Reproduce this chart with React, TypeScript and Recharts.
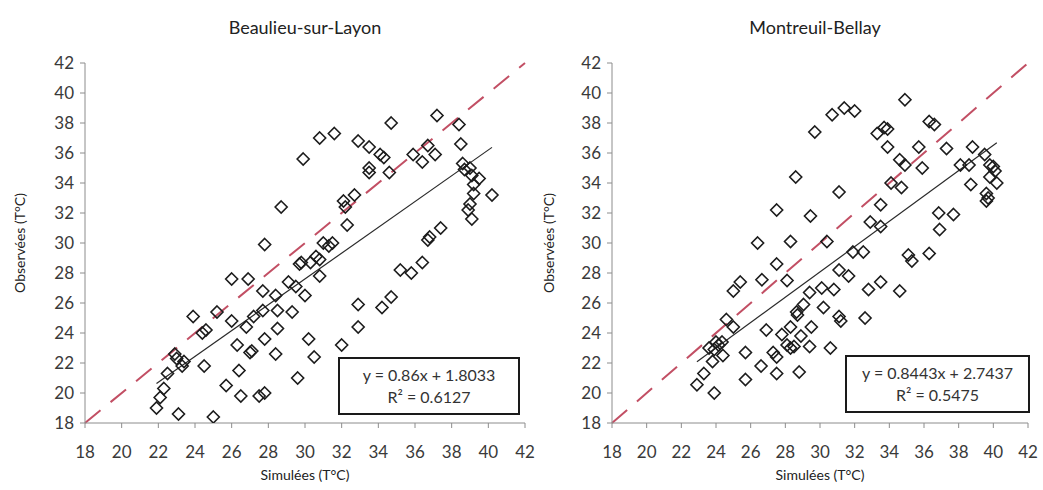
import React from "react";
import {
  ScatterChart,
  Scatter,
  XAxis,
  YAxis,
  ReferenceLine,
} from "recharts";

// Beaulieu-sur-Layon : simulées (x) vs observées (y), °C
const beaulieuX = [
  21.9, 22.1, 22.3, 22.5, 22.9, 23.0, 23.3, 23.4, 23.1, 23.9, 24.4, 24.6, 24.5, 25.0, 25.2, 25.7,
  26.0, 26.0, 26.3, 26.4, 26.5, 26.9, 26.8, 27.0, 27.1, 27.2, 27.5, 27.8, 27.8, 27.7, 27.8, 27.7,
  28.4, 28.5, 28.5, 28.4, 28.7, 29.1, 29.3, 29.6, 29.5, 29.7, 30.0, 30.2, 30.5, 29.9, 30.8, 31.6,
  32.9, 33.5, 34.1, 34.3, 33.5, 33.5, 34.6, 34.7, 35.9, 36.4, 36.7, 37.1, 37.2, 38.4, 38.5, 38.6,
  38.7, 39.0, 39.1, 39.5, 39.2, 39.2, 40.2, 39.0, 38.9, 39.1, 32.3, 32.1, 32.7, 32.2, 31.5, 36.8,
  37.4, 31.0, 31.3, 29.8, 30.3, 30.6, 30.8, 32.0, 32.9, 32.9, 34.2, 34.7, 35.2, 35.8, 36.4, 36.7,
  30.8,
];
const beaulieuY = [
  19.0, 19.7, 20.3, 21.3, 22.6, 22.3, 21.8, 22.1, 18.6, 25.1, 24.0, 24.2, 21.8, 18.4, 25.4, 20.5,
  27.6, 24.8, 23.2, 21.5, 19.8, 27.6, 24.4, 22.7, 22.8, 25.1, 19.8, 20.0, 29.9, 26.8, 23.6, 25.5,
  26.5, 25.5, 24.3, 22.6, 32.4, 27.4, 25.4, 21.0, 27.1, 28.6, 26.5, 23.6, 22.4, 35.6, 37.0, 37.3,
  36.8, 36.4, 35.9, 35.7, 35.0, 34.7, 34.7, 38.0, 35.9, 35.4, 36.5, 35.9, 38.5, 37.9, 36.6, 35.3,
  34.9, 35.0, 34.5, 34.3, 33.9, 33.3, 33.2, 32.6, 32.2, 31.6, 31.2, 32.8, 33.2, 32.4, 30.0, 30.4,
  31.0, 30.0, 29.8, 28.7, 28.7, 29.1, 27.8, 23.2, 25.9, 24.4, 25.7, 26.4, 28.2, 28.0, 28.7, 30.2,
  28.9,
];

// Montreuil-Bellay
const montreuilX = [
  22.9, 23.3, 23.8, 23.9, 24.4, 23.6, 23.9, 24.0, 24.15, 24.35, 24.6, 25.0, 25.0, 25.4, 25.7, 25.7,
  26.4, 26.6, 26.65, 26.9, 27.3, 27.5, 27.5, 27.5, 27.5, 27.8, 28.1, 28.3, 28.5, 28.3, 28.1, 28.3,
  28.6, 28.7, 28.9, 28.8, 29.05, 28.65, 29.4, 29.45, 29.5, 29.4, 29.7, 30.1, 30.2, 30.4, 30.6, 30.7,
  30.8, 31.1, 31.1, 31.1, 31.2, 31.4, 31.65, 31.9, 32.0, 32.5, 32.6, 32.8, 32.9, 33.3, 33.5, 33.5,
  33.5, 33.7, 33.9, 33.9, 34.1, 34.6, 34.6, 34.7, 34.9, 34.9, 35.1, 35.3, 35.7, 35.9, 36.3, 36.3,
  36.6, 36.85, 36.9, 37.3, 37.7, 38.1, 38.6, 38.7, 38.8, 39.5, 39.6, 39.6, 39.7, 39.8, 39.8, 40.0,
  40.1, 40.2,
];
const montreuilY = [
  20.55, 21.3, 22.1, 20.0, 22.5, 23.0, 22.9, 23.4, 23.2, 23.4, 24.9, 24.4, 26.8, 27.4, 20.9, 22.7,
  30.0, 21.8, 27.55, 24.2, 22.7, 22.4, 21.3, 28.6, 32.2, 23.9, 23.2, 23.0, 23.1, 24.4, 27.5, 30.1,
  34.4, 25.2, 23.8, 21.4, 25.9, 25.4, 26.7, 31.8, 24.4, 23.1, 37.4, 27.0, 25.7, 30.1, 23.0, 38.55,
  26.9, 33.4, 28.2, 25.1, 24.8, 39.0, 27.8, 29.4, 38.8, 29.4, 25.0, 26.9, 31.4, 37.3, 27.4, 32.55,
  31.1, 37.7, 37.6, 36.4, 34.0, 35.55, 26.8, 33.7, 35.2, 39.55, 29.2, 28.8, 36.4, 35.0, 38.1, 29.3,
  37.9, 32.0, 30.9, 36.3, 31.9, 35.2, 35.2, 33.9, 36.4, 35.9, 33.3, 32.8, 33.0, 35.2, 34.4, 35.1,
  34.8, 34.0,
];

const axisTicks = [18, 20, 22, 24, 26, 28, 30, 32, 34, 36, 38, 40, 42];

const beaulieuFit = { slope: 0.86, intercept: 1.8033, r2: "0.6127", eq: "y = 0.86x + 1.8033" };
const montreuilFit = { slope: 0.8443, intercept: 2.7437, r2: "0.5475", eq: "y = 0.8443x + 2.7437" };

const FONT = "Lato, 'Open Sans', sans-serif";
const AXIS_GREY = "#8c8c8c";

const Diamond = (props: any) => {
  const { cx, cy } = props;
  if (cx == null || cy == null) return null;
  const r = 6;
  return (
    <path
      d={`M${cx},${cy - r} L${cx + r},${cy} L${cx},${cy + r} L${cx - r},${cy} Z`}
      fill="none"
      stroke="#1c1c1c"
      strokeWidth={1.6}
    />
  );
};

function Panel({ xs, ys, fit, width, marginLeft }: any) {
  const data = xs.map((x: number, i: number) => ({ x, y: ys[i] }));
  const minX = Math.min(...xs);
  const maxX = Math.max(...xs);
  const tick = { fontSize: 17, fill: "#3a3a3a", fontFamily: FONT };
  return (
    <ScatterChart
      width={width}
      height={490}
      margin={{ top: 63, right: 15, bottom: 27, left: marginLeft }}
    >
      <XAxis
        type="number"
        dataKey="x"
        domain={[18, 42]}
        ticks={axisTicks}
        interval={0}
        height={40}
        tick={tick}
        tickSize={5}
        tickMargin={18}
        stroke={AXIS_GREY}
        allowDataOverflow
      />
      <YAxis
        type="number"
        dataKey="y"
        domain={[18, 42]}
        ticks={axisTicks}
        interval={0}
        width={60}
        tick={tick}
        tickSize={5}
        tickMargin={6}
        stroke={AXIS_GREY}
        allowDataOverflow
      />
      <ReferenceLine
        segment={[{ x: 18, y: 18 }, { x: 42, y: 42 }]}
        stroke="#c24f64"
        strokeWidth={2}
        strokeDasharray="20 13"
        ifOverflow="visible"
      />
      <ReferenceLine
        segment={[
          { x: minX, y: fit.slope * minX + fit.intercept },
          { x: maxX, y: fit.slope * maxX + fit.intercept },
        ]}
        stroke="#2a2a2a"
        strokeWidth={1.2}
        ifOverflow="visible"
      />
      <Scatter data={data} shape={Diamond} isAnimationActive={false} />
    </ScatterChart>
  );
}

const textStyle: React.CSSProperties = {
  position: "absolute",
  fontFamily: FONT,
  color: "#222",
  whiteSpace: "nowrap",
};

function EqBox({ left, top, width, height, fit }: any) {
  return (
    <div
      style={{
        position: "absolute",
        left,
        top,
        width,
        height,
        border: "2px solid #1a1a1a",
        boxSizing: "border-box",
        background: "#fff",
        fontFamily: FONT,
        fontSize: 16,
        color: "#333",
        textAlign: "center",
        display: "flex",
        flexDirection: "column",
        justifyContent: "center",
        lineHeight: "22px",
      }}
    >
      <div>{fit.eq}</div>
      <div>R² = {fit.r2}</div>
    </div>
  );
}

export default function App() {
  return (
    <div
      style={{
        position: "absolute",
        left: 0,
        top: 0,
        width: 1043,
        height: 490,
        background: "#fff",
        overflow: "hidden",
      }}
    >
      <div style={{ position: "absolute", left: 0, top: 0 }}>
        <Panel xs={beaulieuX} ys={beaulieuY} fit={beaulieuFit} width={540} marginLeft={25} />
      </div>
      <div style={{ position: "absolute", left: 530, top: 0 }}>
        <Panel xs={montreuilX} ys={montreuilY} fit={montreuilFit} width={513} marginLeft={22} />
      </div>

      <div style={{ ...textStyle, left: 305, top: 27, fontSize: 18, transform: "translate(-50%,-50%)" }}>
        Beaulieu-sur-Layon
      </div>
      <div style={{ ...textStyle, left: 815, top: 27, fontSize: 18, transform: "translate(-50%,-50%)" }}>
        Montreuil-Bellay
      </div>

      <div style={{ ...textStyle, left: 305, top: 474, fontSize: 14, transform: "translate(-50%,-50%)" }}>
        Simulées (T°C)
      </div>
      <div style={{ ...textStyle, left: 820, top: 474, fontSize: 14, transform: "translate(-50%,-50%)" }}>
        Simulées (T°C)
      </div>

      <div
        style={{ ...textStyle, left: 19, top: 243, fontSize: 14, transform: "translate(-50%,-50%) rotate(-90deg)" }}
      >
        Observées (T°C)
      </div>
      <div
        style={{ ...textStyle, left: 548, top: 243, fontSize: 14, transform: "translate(-50%,-50%) rotate(-90deg)" }}
      >
        Observées (T°C)
      </div>

      <EqBox left={338} top={357} width={182} height={58} fit={beaulieuFit} />
      <EqBox left={845} top={355} width={185} height={58} fit={montreuilFit} />
    </div>
  );
}
